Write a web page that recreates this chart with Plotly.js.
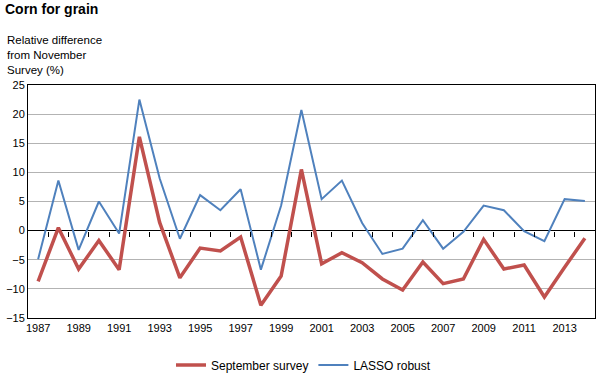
<!DOCTYPE html>
<html>
<head>
<meta charset="utf-8">
<script src="https://cdn.plot.ly/plotly-3.0.1.min.js"></script>
<style>html,body{margin:0;padding:0;background:#fff;}#chart{width:607px;height:380px;}</style>
</head>
<body>
<div id="chart"></div>
<script>
var years = [1987,1988,1989,1990,1991,1992,1993,1994,1995,1996,1997,1998,1999,2000,
             2001,2002,2003,2004,2005,2006,2007,2008,2009,2010,2011,2012,2013,2014];
var september = [-8.7,0.5,-6.6,-1.7,-6.7,16.1,1.4,-8.1,-3.0,-3.5,-1.1,-12.8,-7.8,10.5,
                 -5.7,-3.8,-5.5,-8.3,-10.2,-5.4,-9.1,-8.3,-1.5,-6.6,-5.9,-11.4,-6.3,-1.3];
var lasso = [-4.9,8.6,-3.3,5.0,-0.5,22.5,9.0,-1.4,6.1,3.5,7.1,-6.7,4.3,20.7,
             5.4,8.6,1.3,-4.0,-3.1,1.8,-3.1,-0.2,4.3,3.5,-0.1,-1.8,5.4,5.1];
var xTickYears = years.filter(function(y){return (y-1987)%2===0;});
var boundaries = years.map(function(y){return y+0.5;}).slice(0,-1);

var font = "Liberation Sans, Arial, sans-serif";
var traces = [
  {x: years, y: september, type:'scatter', mode:'lines', name:'September survey',
   line:{color:'#C0504D', width:3.5}},
  {x: years, y: lasso, type:'scatter', mode:'lines', name:'LASSO robust',
   line:{color:'#4F81BD', width:2}},
  {x: [years[0]], y: [null], xaxis:'x2', type:'scatter', mode:'lines', showlegend:false, hoverinfo:'skip'}
];
var layout = {
  width:607, height:380,
  margin:{l:28, r:12, t:85, b:62},
  paper_bgcolor:'#fff', plot_bgcolor:'#fff',
  font:{family:font, size:11, color:'#000'},
  title:{text:'<b>Corn for grain</b>', font:{family:font, size:14, color:'#000'},
         xref:'container', x:5/607, xanchor:'left', yref:'container', y:1-4/380, yanchor:'top'},
  xaxis:{range:[1986.5, 2014.5], tickvals:xTickYears, ticktext:xTickYears.map(String),
         showgrid:false, zeroline:false, showline:true, linecolor:'#000', linewidth:1, mirror:true,
         ticks:'', tickfont:{size:11}, automargin:false},
  xaxis2:{overlaying:'x', anchor:'free', position:15/40, range:[1986.5, 2014.5],
          tickvals:boundaries, ticks:'outside', ticklen:5, tickcolor:'#000', tickwidth:1,
          showticklabels:false, showgrid:false, zeroline:false, showline:false},
  yaxis:{range:[-15,25], dtick:5, showgrid:true, gridcolor:'#B3B3B3', gridwidth:1,
         zeroline:true, zerolinecolor:'#000', zerolinewidth:1, automargin:false,
         showline:true, linecolor:'#000', linewidth:1, mirror:true, ticks:'', tickfont:{size:11}},
  showlegend:true,
  legend:{orientation:'h', xref:'container', x:0.5, xanchor:'center',
          yref:'container', y:1-365/380, yanchor:'middle',
          font:{family:font, size:12}, itemwidth:30},
  annotations:[{text:'Relative difference<br>from November<br>Survey (%)', xref:'paper', yref:'paper',
                x:-23/567, y:(318-32)/233, xanchor:'left', yanchor:'top', align:'left',
                showarrow:false, font:{family:font, size:11.5, color:'#000'}}]
};
Plotly.newPlot('chart', traces, layout, {displayModeBar:false, staticPlot:true});
</script>
</body>
</html>
